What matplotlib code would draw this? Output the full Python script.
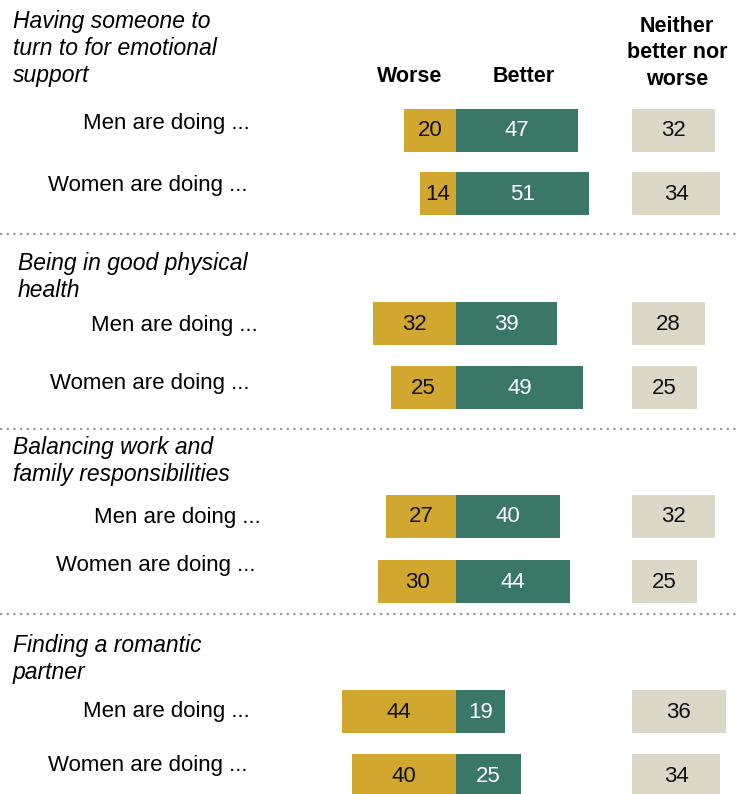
import matplotlib.pyplot as plt

# data
sections = [
    "Having someone to\nturn to for emotional\nsupport",
    "Being in good physical\nhealth",
    "Balancing work and\nfamily responsibilities",
    "Finding a romantic\npartner",
]
rows = ["Men are doing ...", "Women are doing ..."]
worse = [[20, 14], [32, 25], [27, 30], [44, 40]]
better = [[47, 51], [39, 49], [40, 44], [19, 25]]
neither = [[32, 34], [28, 25], [32, 25], [36, 34]]

GOLD = "#D2A730"
GREEN = "#3A7767"
BEIGE = "#DBD8C8"

# layout (pixels)
W, H = 736, 794
ZERO = 456
SCALE = 2.6
NEITHER_START = 632
row_y = [[130, 193], [323, 387], [516, 581], [711, 775]]
label_y = [[123, 185], [325, 383], [518, 566], [711, 766]]
label_right = [[250, 248], [258, 249], [261, 256], [250, 248]]
title_y = [10, 252, 436, 634]
title_x = [13, 18, 13, 13]
sep_y = [234, 429, 614]
BAR_H = 43


def u(px):
    return (px - ZERO) / SCALE


plt.rcParams['font.family'] = ['Liberation Sans', 'DejaVu Sans']
fig = plt.figure(figsize=(W / 100, H / 100), dpi=100)
ax = fig.add_axes([0, 0, 1, 1])
ax.set_xlim(u(0), u(W))
ax.set_ylim(H, 0)
ax.axis("off")

nx = u(NEITHER_START)
for s in range(len(sections)):
    ax.text(u(title_x[s]), title_y[s], sections[s], style="italic", fontsize=16.5,
            va="top", ha="left", linespacing=1.22)
    for r in range(2):
        y = row_y[s][r]
        w, b, n = worse[s][r], better[s][r], neither[s][r]
        ax.barh(y, -w, height=BAR_H, color=GOLD)
        ax.barh(y, b, height=BAR_H, color=GREEN)
        ax.barh(y, n, left=nx, height=BAR_H, color=BEIGE)
        ax.text(-w / 2, y + 1, str(w), ha="center", va="center", fontsize=16, color="#111111")
        ax.text(b / 2, y + 1, str(b), ha="center", va="center", fontsize=16, color="white")
        ax.text(nx + n / 2, y + 1, str(n), ha="center", va="center", fontsize=16, color="#111111")
        ax.text(u(label_right[s][r]), label_y[s][r], rows[r], ha="right", va="center", fontsize=16)

for y in sep_y:
    ax.plot([u(0), u(W)], [y, y], color="#9a9a9a", linestyle=(0, (1, 2)), linewidth=1.6)

ax.text(u(410), 77, "Worse", fontweight="bold", fontsize=15.5, ha="center", va="center")
ax.text(u(524), 77, "Better", fontweight="bold", fontsize=15.5, ha="center", va="center")
ax.text(u(677), 53, "Neither\nbetter nor\nworse", fontweight="bold", fontsize=15.5,
        ha="center", va="center", linespacing=1.33)

fig.savefig("out.png", dpi=100)
